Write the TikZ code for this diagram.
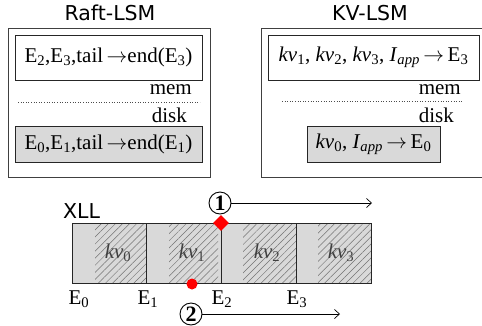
\documentclass[tikz,border=0pt]{standalone}
\usepackage{fontspec}
\setmainfont{Liberation Serif}
\newfontfamily\titlefont{DejaVu Sans}
\usetikzlibrary{patterns.meta,shapes.geometric,arrows.meta}
\definecolor{boxgray}{HTML}{D9D9D9}
\tikzset{
  outerbox/.style={draw=black!75, line width=0.9pt},
  innerbox/.style={draw=black!85, line width=0.9pt},
  graybox/.style={innerbox, fill=boxgray},
  ttl/.style={font=\titlefont\fontsize{20.5}{20.5}\selectfont, inner sep=0pt},
  lbl/.style={font=\fontsize{21}{21}\selectfont, inner sep=0pt},
  sep/.style={dotted, line width=0.6pt, black!70},
  hatch/.style={pattern={Lines[angle=45,distance=5pt,line width=0.5pt]}, pattern color=black!55},
  num/.style={circle, draw, line width=0.9pt, minimum size=22pt, inner sep=0pt, font=\bfseries\fontsize{22}{22}\selectfont},
  arr/.style={-{Straight Barb[length=5pt,width=9pt]}, line width=0.7pt},
}
\newcommand{\kv}[1]{\textit{kv}\textsubscript{#1}}
\newcommand{\Iapp}{\textit{I}\textsubscript{\textit{app}}}
\begin{document}
\begin{tikzpicture}[x=1pt,y=-1pt]
\useasboundingbox (0,0) rectangle (482,325);
% titles
\node[ttl] (t1) at (110,13) {Raft-LSM};
\node[ttl] (t2) at (370,13) {KV-LSM};
% Raft-LSM
\draw[outerbox] (8,28) rectangle (210,177);
\draw[innerbox] (15,35) rectangle (202,80);
\node[lbl] (r1) at (108.5,57.5) {E\textsubscript{2},E\textsubscript{3},tail\,$\rightarrow$end(E\textsubscript{3})};
\node[lbl, anchor=east] (rm) at (192,90) {mem};
\draw[sep] (18,102) -- (200,102);
\node[lbl, anchor=east] (rd) at (187,115) {disk};
\draw[graybox] (15,126) rectangle (202,162);
\node[lbl] (r2) at (108.5,144) {E\textsubscript{0},E\textsubscript{1},tail\,$\rightarrow$end(E\textsubscript{1})};
% KV-LSM
\draw[outerbox] (261,28) rectangle (484,177);
\draw[innerbox] (268,35) rectangle (479,80);
\node[lbl] (k1) at (373.5,57.5) {\kv{1}, \kv{2}, \kv{3}, \Iapp\,$\rightarrow$\,E\textsubscript{3}};
\node[lbl, anchor=east] (km) at (461,90) {mem};
\draw[sep] (282,101) -- (463,101);
\node[lbl, anchor=east] (kd) at (454,115) {disk};
\draw[graybox] (307,126) rectangle (440,162);
\node[lbl] (k2) at (373.5,144) {\kv{0}, \Iapp\,$\rightarrow$\,E\textsubscript{0}};
% XLL
\node[ttl, anchor=west] (xll) at (63,211) {XLL};
\fill[boxgray] (72,223) rectangle (371,283);
\fill[hatch] (95,223) rectangle (146,283);
\fill[hatch] (169,223) rectangle (218,283);
\fill[hatch] (243,223) rectangle (296,283);
\fill[hatch] (318,223) rectangle (371,283);
\draw[black!85, line width=0.9pt] (72,223) rectangle (371,283);
\foreach \x in {146,221,296} \draw[black!85, line width=0.9pt] (\x,223) -- (\x,283);
\node[lbl, text=black!75] (v0) at (118,253) {\kv{0}};
\node[lbl, text=black!75] (v1) at (192,253) {\kv{1}};
\node[lbl, text=black!75] (v2) at (267,253) {\kv{2}};
\node[lbl, text=black!75] (v3) at (341,253) {\kv{3}};
\node[diamond, fill=red, minimum size=16pt, inner sep=0pt] (dm) at (221,223) {};
\node[circle, fill=red, minimum size=11pt, inner sep=0pt] (dot) at (192,284) {};
\node[lbl] (e0) at (79,299) {E\textsubscript{0}};
\node[lbl] (e1) at (148,299) {E\textsubscript{1}};
\node[lbl] (e2) at (222,299) {E\textsubscript{2}};
\node[lbl] (e3) at (297,299) {E\textsubscript{3}};
\node[num] (n1) at (220,203) {1};
\coordinate (a1) at (372,203);
\draw[arr] (n1) -- (a1);
\node[num] (n2) at (191,314) {2};
\coordinate (a2) at (340,314);
\draw[arr] (n2) -- (a2);
\end{tikzpicture}
\end{document}
